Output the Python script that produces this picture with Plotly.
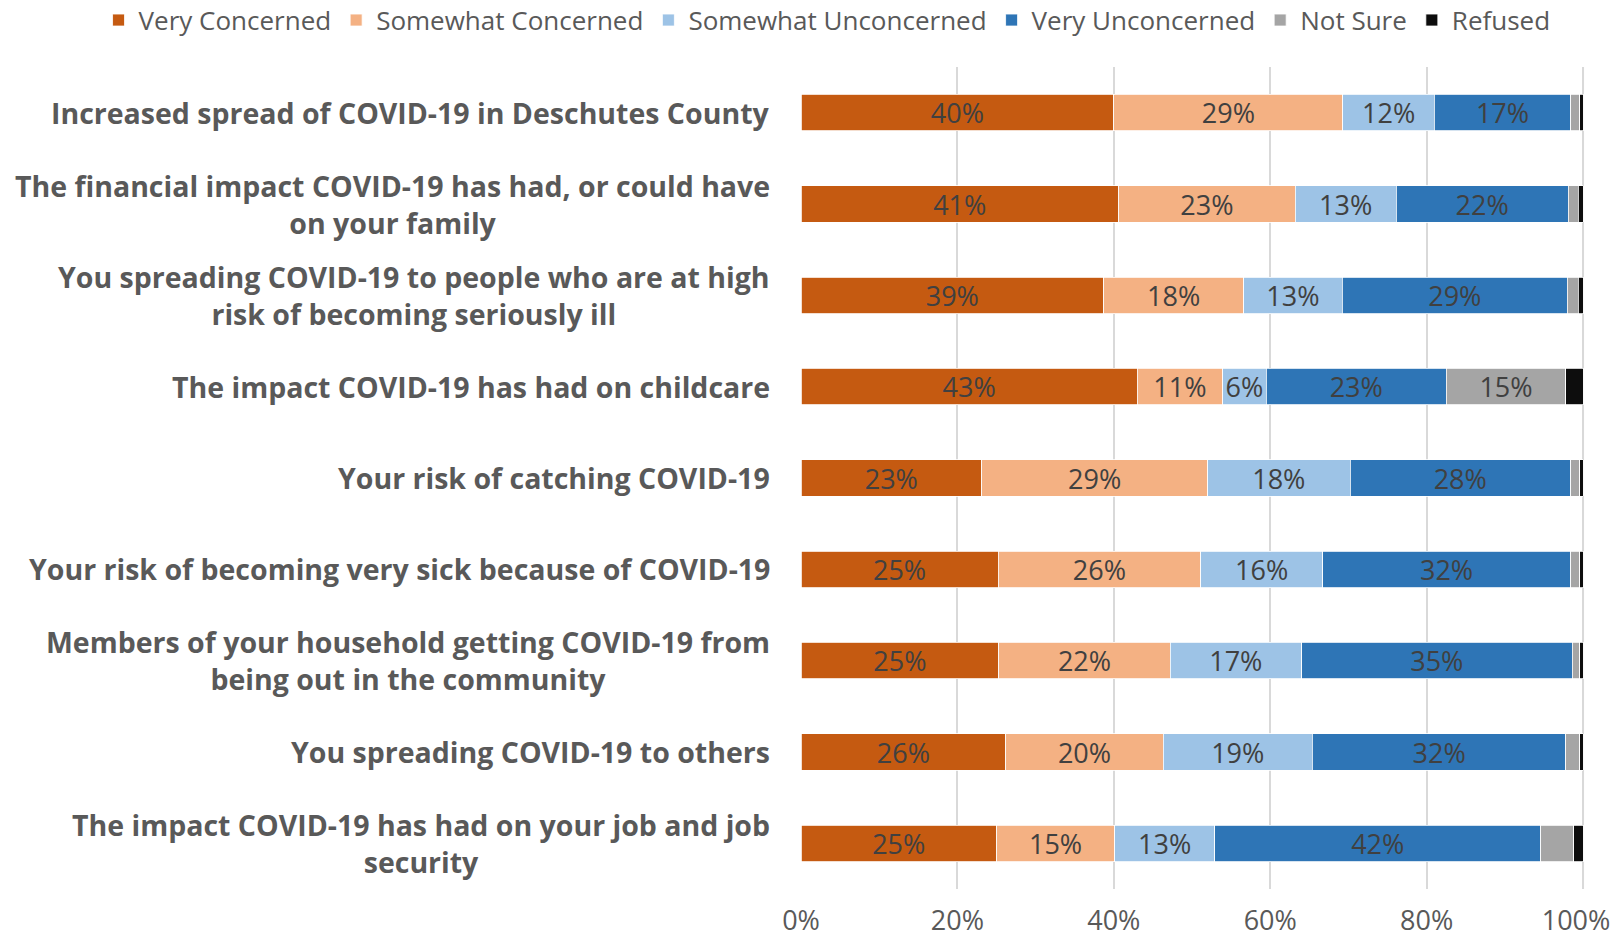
import plotly.graph_objects as go

# Survey items, top to bottom
items = [
    "Increased spread of COVID-19 in Deschutes County",
    "The financial impact COVID-19 has had, or could have<br>on your family",
    "You spreading COVID-19 to people who are at high<br>risk of becoming seriously ill",
    "The impact COVID-19 has had on childcare",
    "Your risk of catching COVID-19",
    "Your risk of becoming very sick because of COVID-19",
    "Members of your household getting COVID-19 from<br>being out in the community",
    "You spreading COVID-19 to others",
    "The impact COVID-19 has had on your job and job<br>security",
]

# Response shares (%) per item, same order as items
very_concerned = [40.0, 40.6, 38.7, 43.0, 23.1, 25.2, 25.3, 26.2, 25.0]
somewhat_concerned = [29.3, 22.6, 17.9, 10.9, 28.9, 25.9, 21.9, 20.1, 15.1]
somewhat_unconcerned = [11.7, 12.9, 12.6, 5.6, 18.2, 15.6, 16.8, 19.1, 12.8]
very_unconcerned = [17.4, 22.0, 28.8, 23.0, 28.2, 31.7, 34.6, 32.4, 41.7]
not_sure = [1.2, 1.3, 1.4, 15.3, 1.2, 1.2, 1.0, 1.8, 4.2]
refused = [0.4, 0.6, 0.6, 2.2, 0.4, 0.4, 0.4, 0.4, 1.2]

series = [
    ("Very Concerned", very_concerned, "#C55A11"),
    ("Somewhat Concerned", somewhat_concerned, "#F4B183"),
    ("Somewhat Unconcerned", somewhat_unconcerned, "#9DC3E6"),
    ("Very Unconcerned", very_unconcerned, "#2E75B6"),
    ("Not Sure", not_sure, "#A5A5A5"),
    ("Refused", refused, "#0D0D0D"),
]

x_ticks = [0, 20, 40, 60, 80, 100]

FONT = "Open Sans"
TEXT_GRAY = "#595959"
GRID = "#D9D9D9"

fig = go.Figure()
for name, vals, color in series:
    labels = [f"{v:.0f}%" if v >= 5 else "" for v in vals]
    fig.add_trace(go.Bar(
        name=name,
        y=list(range(len(items))),
        x=vals,
        orientation="h",
        marker=dict(color=color, line=dict(color="white", width=0.8)),
        text=labels,
        textposition="inside",
        insidetextanchor="middle",
        textangle=0,
        constraintext="none",
        textfont=dict(family=FONT, size=27, color="#404040"),
        hoverinfo="skip",
    ))

# Category labels as centred multi-line annotations left of the plot
for i, label in enumerate(items):
    fig.add_annotation(
        x=0, xref="paper", xanchor="right", xshift=-29,
        y=i, yref="y", yanchor="middle",
        text=f"<b>{label}</b>", align="center", showarrow=False,
        font=dict(family=FONT, size=28.5, color=TEXT_GRAY),
    )

# Gridline at the right end of the axis (edge gridlines are not drawn by default)
fig.add_shape(
    type="line", xref="x", yref="paper",
    x0=x_ticks[-1], x1=x_ticks[-1], y0=0, y1=1,
    line=dict(color=GRID, width=2), layer="below",
)

# Tick labels; the last one is nudged left so it stays inside the page
tick_text = [f"{t}%" for t in x_ticks]
tick_text[-1] += "&nbsp;&nbsp;"

fig.update_layout(
    barmode="stack",
    bargap=0.6,
    width=1617, height=937,
    margin=dict(l=801, r=32, t=67, b=48, autoexpand=False),
    paper_bgcolor="white",
    plot_bgcolor="white",
    font=dict(family=FONT, color=TEXT_GRAY),
    legend=dict(
        orientation="h",
        xref="paper", x=-0.896, xanchor="left",
        yref="paper", y=1.057, yanchor="middle",
        font=dict(family=FONT, size=26, color=TEXT_GRAY),
        itemwidth=30,
        traceorder="normal",
        borderwidth=0,
    ),
    xaxis=dict(
        range=[0, 100.25],
        tickvals=x_ticks,
        ticktext=tick_text,
        showgrid=True, gridcolor=GRID, gridwidth=1.5,
        zeroline=False, showline=False,
        tickfont=dict(family=FONT, size=27, color=TEXT_GRAY),
        ticks="", ticklabelstandoff=13,
        ticklabeloverflow="allow",
        automargin=False,
    ),
    yaxis=dict(
        range=[8.5, -0.5],
        showticklabels=False, showgrid=False, zeroline=False,
        automargin=False,
    ),
)

fig.write_html("out.html")
